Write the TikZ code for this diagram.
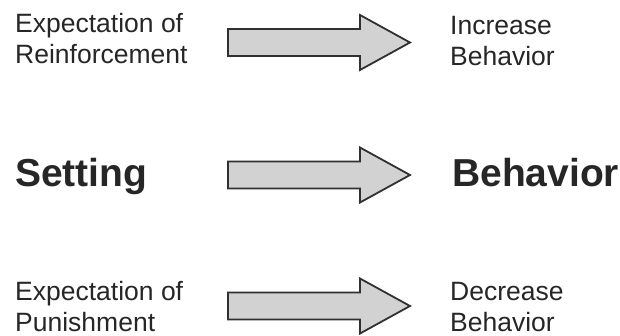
\documentclass[tikz,border=0pt]{standalone}
\usepackage{fontspec}
\setmainfont{Liberation Sans}
\definecolor{arrowfill}{HTML}{D2D2D2}
\definecolor{arrowline}{HTML}{303030}
\definecolor{textcol}{HTML}{262626}
\tikzset{
  small/.style={anchor=base west, inner sep=0pt, align=left, text=textcol,
    font=\fontsize{26.5}{31}\selectfont},
  big/.style={anchor=base west, inner sep=0pt, text=textcol,
    font=\fontsize{39}{45}\selectfont\bfseries},
  blockarrow/.pic={
    \draw[line width=1.8pt, draw=arrowline, fill=arrowfill, line join=miter]
      (0,13.5pt) -- (132pt,13.5pt) -- (132pt,27.5pt) -- (182pt,0pt)
      -- (132pt,-27.5pt) -- (132pt,-13.5pt) -- (0,-13.5pt) -- cycle;
  }
}
\begin{document}
\begin{tikzpicture}[x=1pt,y=1pt]
\useasboundingbox (0,0) rectangle (620,-336);
\node[small] (er) at (15,-64) {Expectation of\\Reinforcement};
\node[small] (ib) at (450,-66) {Increase\\Behavior};
\node[big] (set) at (15,-187) {Setting};
\node[big] (beh) at (452,-187) {Behavior};
\node[small] (ep) at (15,-331) {Expectation of\\Punishment};
\node[small] (db) at (450,-331) {Decrease\\Behavior};
\pic at (228,-42.5) {blockarrow};
\pic at (228,-175) {blockarrow};
\pic at (228,-306) {blockarrow};
\end{tikzpicture}
\end{document}
